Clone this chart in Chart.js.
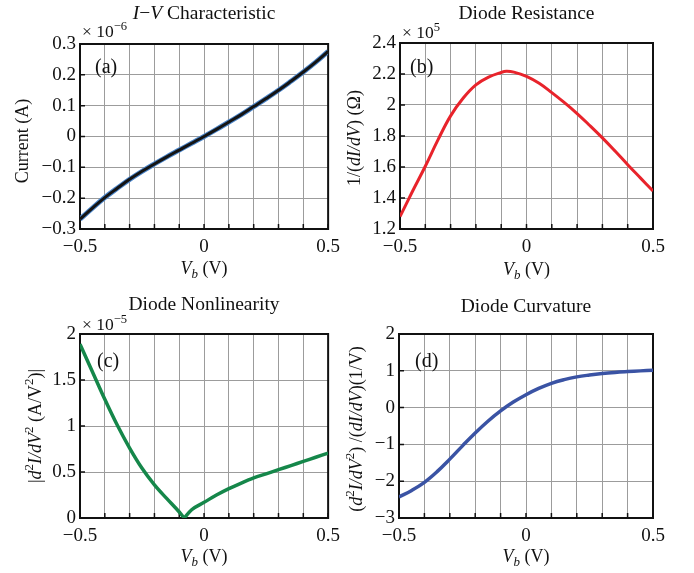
<!DOCTYPE html>
<html><head><meta charset="utf-8">
<script src="https://cdn.jsdelivr.net/npm/chart.js@4.4.1/dist/chart.umd.min.js"></script>
<style>
html,body{margin:0;padding:0;background:#fff;}
#wrap{position:relative;width:694px;height:573px;overflow:hidden;background:#fff;}
.pane{position:absolute;}
</style></head><body>
<div id="wrap">
  <div class="pane" style="left:0;top:0;width:347px;height:286px"><canvas id="ca" width="347" height="286"></canvas></div>
  <div class="pane" style="left:340px;top:0;width:354px;height:286px"><canvas id="cb" width="354" height="286"></canvas></div>
  <div class="pane" style="left:0;top:286px;width:347px;height:287px"><canvas id="cc" width="347" height="287"></canvas></div>
  <div class="pane" style="left:340px;top:286px;width:354px;height:287px"><canvas id="cd" width="354" height="287"></canvas></div>
</div>
<script>
// ---------------- data ----------------
const biasVoltage = [-0.5,-0.45,-0.4,-0.35,-0.3,-0.25,-0.2,-0.15,-0.1,-0.05,0,0.05,0.1,0.15,0.2,0.25,0.3,0.35,0.4,0.45,0.5];
const biasVoltagePeak = [-0.5,-0.45,-0.4,-0.35,-0.3,-0.25,-0.2,-0.15,-0.1,-0.08,-0.05,0,0.05,0.1,0.15,0.2,0.25,0.3,0.35,0.4,0.45,0.5];
// current in units of 1e-6 A
const current = [-0.268,-0.232,-0.198,-0.168,-0.139,-0.113,-0.089,-0.066,-0.044,-0.022,0,0.023,0.047,0.071,0.097,0.123,0.150,0.179,0.209,0.241,0.276];
// resistance in units of 1e5 Ohm
const resistance = [1.28,1.445,1.605,1.775,1.93,2.045,2.13,2.18,2.21,2.217,2.212,2.185,2.14,2.08,2.015,1.945,1.868,1.788,1.703,1.615,1.53,1.445];
// |d2I/dV2| in units of 1e-5 A/V^2
const nonlinearity = [1.89,1.59,1.29,1.01,0.76,0.54,0.36,0.21,0.065,0,0.09,0.17,0.25,0.32,0.38,0.435,0.48,0.525,0.57,0.615,0.66,0.705];
// curvature in 1/V
const curvature = [-2.43,-2.25,-2.03,-1.74,-1.40,-1.04,-0.69,-0.37,-0.09,0.15,0.35,0.52,0.66,0.76,0.835,0.885,0.925,0.955,0.978,0.998,1.015];

const xLabelledTicks = [-0.5, 0, 0.5];
const yRangeA = {min:-0.3, max:0.3, step:0.1};
const yRangeB = {min:1.2, max:2.4, step:0.2};
const yRangeC = {min:0, max:2, step:0.5};
const yRangeD = {min:-3, max:2, step:1};

// ---------------- helpers ----------------
const SERIF = '"Liberation Serif", "Times New Roman", serif';
function fmt(v){
  let r = Math.round(v*100)/100;
  if (Math.abs(r) < 1e-9) r = 0;
  return (r < 0 ? '\u2212' : '') + String(Math.abs(r));
}
function segFont(s, size){
  const sz = (s.sup || s.sub) ? size*0.72 : size;
  return (s.i ? 'italic ' : '') + sz + 'px ' + SERIF;
}
function drawRich(ctx, spec){
  ctx.save();
  ctx.translate(spec.x, spec.y);
  if (spec.rot) ctx.rotate(spec.rot);
  let w = 0;
  for (const s of spec.segs){ ctx.font = segFont(s, spec.size); w += ctx.measureText(s.t).width; }
  let x = spec.align === 'left' ? 0 : -w/2;
  const base = spec.mid ? spec.size*0.33 : 0;
  ctx.fillStyle = '#111';
  ctx.textBaseline = 'alphabetic';
  ctx.textAlign = 'left';
  for (const s of spec.segs){
    ctx.font = segFont(s, spec.size);
    let dy = base;
    if (s.sup) dy -= spec.size*0.42;
    if (s.sub) dy += spec.size*0.25;
    ctx.fillText(s.t, x, dy);
    x += ctx.measureText(s.t).width;
  }
  ctx.restore();
}

const decoPlugin = {
  id: 'deco',
  beforeDatasetsDraw(chart){
    const ctx = chart.ctx;
    const {left, right, top, bottom} = chart.chartArea;
    ctx.save();
    ctx.strokeStyle = '#111';
    ctx.lineWidth = 2;
    ctx.strokeRect(left, top, right-left, bottom-top);
    ctx.lineWidth = 1.5;
    ctx.beginPath();
    chart.scales.x.ticks.forEach(t => {
      const px = chart.scales.x.getPixelForValue(t.value);
      ctx.moveTo(px, bottom); ctx.lineTo(px, bottom-5);
    });
    chart.scales.y.ticks.forEach(t => {
      const py = chart.scales.y.getPixelForValue(t.value);
      ctx.moveTo(left, py); ctx.lineTo(left+5, py);
    });
    ctx.stroke();
    ctx.restore();
  },
  afterDraw(chart, args, opts){
    const ctx = chart.ctx;
    const ca = chart.chartArea;
    const cx = (ca.left + ca.right)/2;
    drawRich(ctx, {segs: opts.title, x: cx, y: opts.titleY, size: 19.5, mid: true});
    drawRich(ctx, {segs: opts.yTitle, x: opts.yTitleX, y: opts.yTitleY, size: 18, mid: true, rot: -Math.PI/2});
    drawRich(ctx, {segs: [{t:'V', i:true},{t:'b', i:true, sub:true},{t:' (V)'}], x: cx, y: opts.xTitleY, size: 18, mid: true});
    if (opts.exponent) drawRich(ctx, {segs: opts.exponent, x: opts.expX, y: opts.expY, size: 17.5, align: 'left'});
    drawRich(ctx, {segs: [{t: opts.panel}], x: opts.panelX, y: opts.panelY, size: 20, align: 'left', mid: true});
  }
};

function makeChart(id, cfg){
  const datasets = cfg.series.map(s => ({
    data: s.x.map((x, i) => ({x: x, y: s.y[i]})),
    borderColor: s.color,
    borderWidth: s.width,
    pointRadius: 0,
    fill: false,
    capBezierPoints: false,
    tension: s.monotone ? 0 : 0.4,
    cubicInterpolationMode: s.monotone ? 'monotone' : 'default'
  }));
  return new Chart(document.getElementById(id), {
    type: 'line',
    data: {datasets},
    plugins: [decoPlugin],
    options: {
      responsive: false,
      animation: false,
      devicePixelRatio: 1,
      layout: {padding: {top: cfg.pad.top, right: cfg.pad.right, left: 0, bottom: 0}},
      plugins: {
        legend: {display: false},
        tooltip: {enabled: false},
        deco: cfg.deco
      },
      scales: {
        x: {
          type: 'linear', min: -0.5, max: 0.5,
          afterFit: sc => { sc.height = cfg.xHeight; },
          grid: {color: '#9c9c9c', lineWidth: 1, drawTicks: false},
          border: {display: false},
          ticks: {
            stepSize: 0.1, autoSkip: false, maxRotation: 0, padding: 7,
            color: '#111', font: {family: SERIF, size: 19},
            callback: v => xLabelledTicks.some(t => Math.abs(t - v) < 1e-6) ? fmt(v) : ''
          }
        },
        y: {
          type: 'linear', min: cfg.yr.min, max: cfg.yr.max,
          afterFit: sc => { sc.width = cfg.yWidth; },
          grid: {color: '#9c9c9c', lineWidth: 1, drawTicks: false},
          border: {display: false},
          ticks: {
            stepSize: cfg.yr.step, autoSkip: false, padding: 4,
            color: '#111', font: {family: SERIF, size: 19},
            callback: v => fmt(v)
          }
        }
      }
    }
  });
}

// dataset order: Chart.js paints index 0 last (on top)
makeChart('ca', {
  series: [
    {x: biasVoltage, y: current, color: '#141414', width: 3},
    {x: biasVoltage, y: current, color: '#4a84c8', width: 5}
  ],
  yr: yRangeA, pad: {top: 44, right: 16}, yWidth: 80, xHeight: 57,
  deco: {
    title: [{t:'I', i:true},{t:'\u2212'},{t:'V', i:true},{t:' Characteristic'}], titleY: 13,
    yTitle: [{t:'Current (A)'}], yTitleX: 22, yTitleY: 141,
    xTitleY: 268,
    exponent: [{t:'\u00d7 10'},{t:'\u22126', sup:true}], expX: 82, expY: 37,
    panel: '(a)', panelX: 95, panelY: 66
  }
});

makeChart('cb', {
  series: [{x: biasVoltagePeak, y: resistance, color: '#e8232b', width: 3}],
  yr: yRangeB, pad: {top: 43, right: 41}, yWidth: 60, xHeight: 57,
  deco: {
    title: [{t:'Diode Resistance'}], titleY: 13,
    yTitle: [{t:'1/('},{t:'dI/dV', i:true},{t:') (\u03a9)'}], yTitleX: 14, yTitleY: 138,
    xTitleY: 269,
    exponent: [{t:'\u00d7 10'},{t:'5', sup:true}], expX: 62, expY: 38,
    panel: '(b)', panelX: 70, panelY: 66
  }
});

// split the |d2I/dV2| curve at its zero so the cusp stays sharp
const cuspIndex = nonlinearity.indexOf(Math.min(...nonlinearity));
makeChart('cc', {
  series: [
    {x: biasVoltagePeak.slice(0, cuspIndex + 1), y: nonlinearity.slice(0, cuspIndex + 1), color: '#15874a', width: 3.5, monotone: true},
    {x: biasVoltagePeak.slice(cuspIndex), y: nonlinearity.slice(cuspIndex), color: '#15874a', width: 3.5, monotone: true}
  ],
  yr: yRangeC, pad: {top: 48, right: 15}, yWidth: 80, xHeight: 55,
  deco: {
    title: [{t:'Diode Nonlinearity'}], titleY: 18,
    yTitle: [{t:'|'},{t:'d', i:true},{t:'2', sup:true},{t:'I/dV', i:true},{t:'2', sup:true},{t:' (A/V'},{t:'2', sup:true},{t:')|'}],
    yTitleX: 35, yTitleY: 140,
    xTitleY: 270,
    exponent: [{t:'\u00d7 10'},{t:'\u22125', sup:true}], expX: 82, expY: 44,
    panel: '(c)', panelX: 97, panelY: 74
  }
});

makeChart('cd', {
  series: [{x: biasVoltage, y: curvature, color: '#3a53a4', width: 3.5}],
  yr: yRangeD, pad: {top: 48, right: 41}, yWidth: 59, xHeight: 55,
  deco: {
    title: [{t:'Diode Curvature'}], titleY: 19.5,
    yTitle: [{t:'('},{t:'d', i:true},{t:'2', sup:true},{t:'I/dV', i:true},{t:'2', sup:true},{t:') /('},{t:'dI/dV', i:true},{t:')(1/V)'}],
    yTitleX: 16, yTitleY: 143,
    xTitleY: 270,
    exponent: null,
    panel: '(d)', panelX: 75, panelY: 74
  }
});
</script>
</body></html>
